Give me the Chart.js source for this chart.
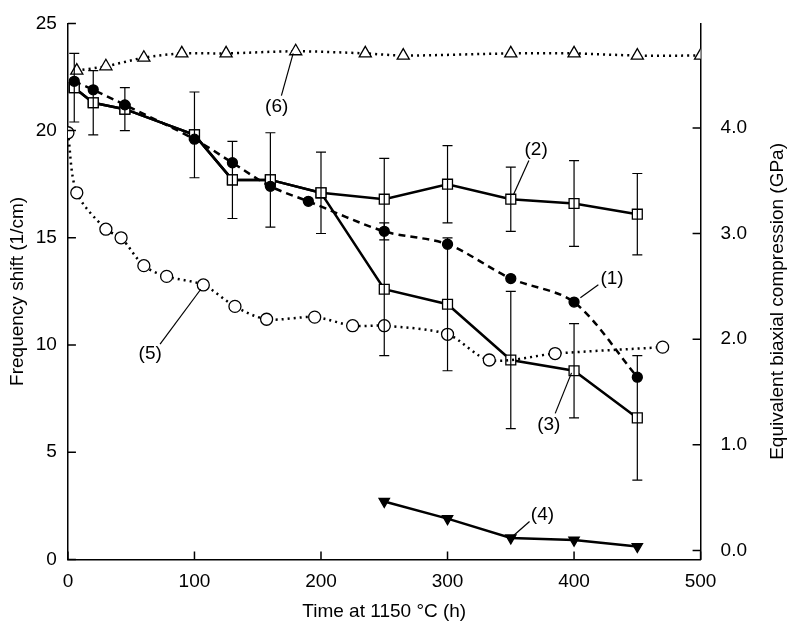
<!DOCTYPE html>
<html><head><meta charset="utf-8">
<script src="https://cdn.jsdelivr.net/npm/chart.js@4"></script>
<style>body{margin:0;background:#fff}#wrap{width:789px;height:639px}</style>
</head><body><div id="wrap"><canvas id="c"></canvas></div>
<script>
const x1 = [5, 20, 45, 100, 130, 160, 190, 250, 300, 350, 400, 450];
const y1 = [22.3, 21.9, 21.2, 19.6, 18.5, 17.4, 16.7, 15.3, 14.7, 13.1, 12.0, 8.5];
const x23 = [5, 20, 45, 100, 130, 160, 200, 250, 300, 350, 400, 450];
const y2 = [22.0, 21.3, 21.0, 19.8, 17.7, 17.7, 17.1, 16.8, 17.5, 16.8, 16.6, 16.1];
const err2 = [1.6, 1.5, 1.0, 2.0, 1.8, 2.2, 1.9, 1.9, 1.8, 1.5, 2.0, 1.9];
const y3 = [22.0, 21.3, 21.0, 19.8, 17.7, 17.7, 17.1, 12.6, 11.9, 9.3, 8.8, 6.6];
const err3 = [1.6, 1.5, 1.0, 2.0, 1.8, 2.2, 1.9, 3.1, 3.1, 3.2, 2.2, 2.9];
const x4 = [250, 300, 350, 400, 450];
const y4 = [2.7, 1.9, 1.0, 0.9, 0.6];
const x5 = [0, 7, 30, 42, 60, 78, 107, 132, 157, 195, 225, 250, 300, 333, 385, 470];
const y5 = [19.9, 17.1, 15.4, 15.0, 13.7, 13.2, 12.8, 11.8, 11.2, 11.3, 10.9, 10.9, 10.5, 9.3, 9.6, 9.9];
const x6 = [7, 30, 60, 90, 125, 180, 235, 265, 350, 400, 450, 500];
const y6 = [22.8, 23.0, 23.4, 23.6, 23.6, 23.7, 23.6, 23.5, 23.6, 23.6, 23.5, 23.5];
// label text, label position, leader line end point (data units)
const labels = [
  ["(1)", 430, 13.1, 405, 12.2],
  ["(2)", 370, 19.1, 352, 17.0],
  ["(3)", 380, 6.3, 398, 8.7],
  ["(4)", 375, 2.1, 352, 1.1],
  ["(5)", 65, 9.6, 105, 12.6],
  ["(6)", 165, 21.1, 178, 23.6]
];

const FONT = "'Liberation Sans', Arial, sans-serif";
const pts = (xs, ys) => xs.map((x, i) => ({x: x, y: ys[i]}));
const base = {borderColor: "#000", borderWidth: 2.5, pointBorderColor: "#000", pointBorderWidth: 1.3, pointRadius: 6, tension: 0.3};

const extras = {
  id: "extras",
  afterDatasetsDraw(chart) {
    const ctx = chart.ctx, xs = chart.scales.x, ys = chart.scales.y, a = chart.chartArea;
    ctx.save();
    ctx.strokeStyle = "#000"; ctx.lineWidth = 1.2;
    const draw = (xv, yv, ev) => xv.forEach((x, i) => {
      const px = xs.getPixelForValue(x);
      const t = ys.getPixelForValue(yv[i] + ev[i]), b = ys.getPixelForValue(yv[i] - ev[i]);
      ctx.beginPath();
      ctx.moveTo(px, t); ctx.lineTo(px, b);
      ctx.moveTo(px - 5, t); ctx.lineTo(px + 5, t);
      ctx.moveTo(px - 5, b); ctx.lineTo(px + 5, b);
      ctx.stroke();
    });
    draw(x23, y2, err2);
    draw(x23.slice(7), y3.slice(7), err3.slice(7));
    ctx.font = "19px " + FONT;
    ctx.fillStyle = "#000"; ctx.textAlign = "center"; ctx.textBaseline = "middle";
    labels.forEach(([t, lx, ly, ex, ey]) => {
      const px = xs.getPixelForValue(lx), py = ys.getPixelForValue(ly);
      const qx = xs.getPixelForValue(ex), qy = ys.getPixelForValue(ey);
      ctx.fillText(t, px, py);
      const dx = qx - px, dy = qy - py, d = Math.hypot(dx, dy);
      ctx.beginPath();
      ctx.moveTo(px + dx / d * 16, py + dy / d * 12);
      ctx.lineTo(qx, qy);
      ctx.stroke();
    });
    // inward ticks
    ctx.lineWidth = 1.5;
    ctx.beginPath();
    for (let v = 0; v <= 500; v += 100) { const p = xs.getPixelForValue(v); ctx.moveTo(p, a.bottom); ctx.lineTo(p, a.bottom - 8); }
    for (let v = 0; v <= 25; v += 5) { const p = ys.getPixelForValue(v); ctx.moveTo(a.left, p); ctx.lineTo(a.left + 8, p); }
    const y1s = chart.scales.y1;
    for (let v = 0; v <= 4; v++) { const p = y1s.getPixelForValue(v); ctx.moveTo(a.right, p); ctx.lineTo(a.right - 8, p); }
    ctx.stroke();
    // right title reading upward
    ctx.translate(778, (a.top + a.bottom) / 2 + 10);
    ctx.rotate(-Math.PI / 2);
    ctx.fillText("Equivalent biaxial compression (GPa)", 0, 0);
    ctx.restore();
  }
};

new Chart(document.getElementById("c"), {
  type: "line",
  data: {
    datasets: [
      {...base, data: pts(x6, y6), borderDash: [2, 4], pointStyle: "triangle", pointBackgroundColor: "#fff", pointRadius: 7},
      {...base, data: pts(x5, y5), borderDash: [2, 4], pointStyle: "circle", pointBackgroundColor: "#fff"},
      {...base, data: pts(x1, y1), borderDash: [7, 5], pointStyle: "circle", pointBackgroundColor: "#000", pointRadius: 5},
      {...base, data: pts(x23, y2), tension: 0, pointStyle: "rect", pointBackgroundColor: "#fff", pointRadius: 7},
      {...base, data: pts(x23, y3), tension: 0, pointStyle: "rect", pointBackgroundColor: "#fff", pointRadius: 7},
      {...base, data: pts(x4, y4), tension: 0, pointStyle: "triangle", rotation: 180, pointBackgroundColor: "#000", pointRadius: 6},
      {data: [], yAxisID: "y1"}
    ]
  },
  options: {
    responsive: true, maintainAspectRatio: false, animation: false,
    layout: {padding: {left: 2, right: 30, top: 22, bottom: 12}},
    plugins: {legend: {display: false}, tooltip: {enabled: false}},
    scales: {
      x: {
        type: "linear", min: 0, max: 500,
        ticks: {stepSize: 100, color: "#000", font: {size: 19, family: FONT}},
        grid: {display: false},
        border: {color: "#000", width: 1.5},
        title: {display: true, text: "Time at 1150 °C (h)", color: "#000", font: {size: 19, family: FONT}}
      },
      y: {
        min: 0, max: 25,
        ticks: {stepSize: 5, color: "#000", font: {size: 19, family: FONT}},
        grid: {display: false},
        border: {color: "#000", width: 1.5},
        title: {display: true, text: "Frequency shift (1/cm)", color: "#000", font: {size: 19, family: FONT}}
      },
      y1: {
        position: "right", min: -0.085, max: 4.99,
        afterBuildTicks: (s) => { s.ticks = [0, 1, 2, 3, 4].map(v => ({value: v})); },
        ticks: {color: "#000", padding: 12, callback: v => v.toFixed(1), font: {size: 19, family: FONT}},
        grid: {display: false},
        border: {color: "#000", width: 1.5},
        title: {display: false}
      }
    }
  },
  plugins: [extras]
});
</script></body></html>
